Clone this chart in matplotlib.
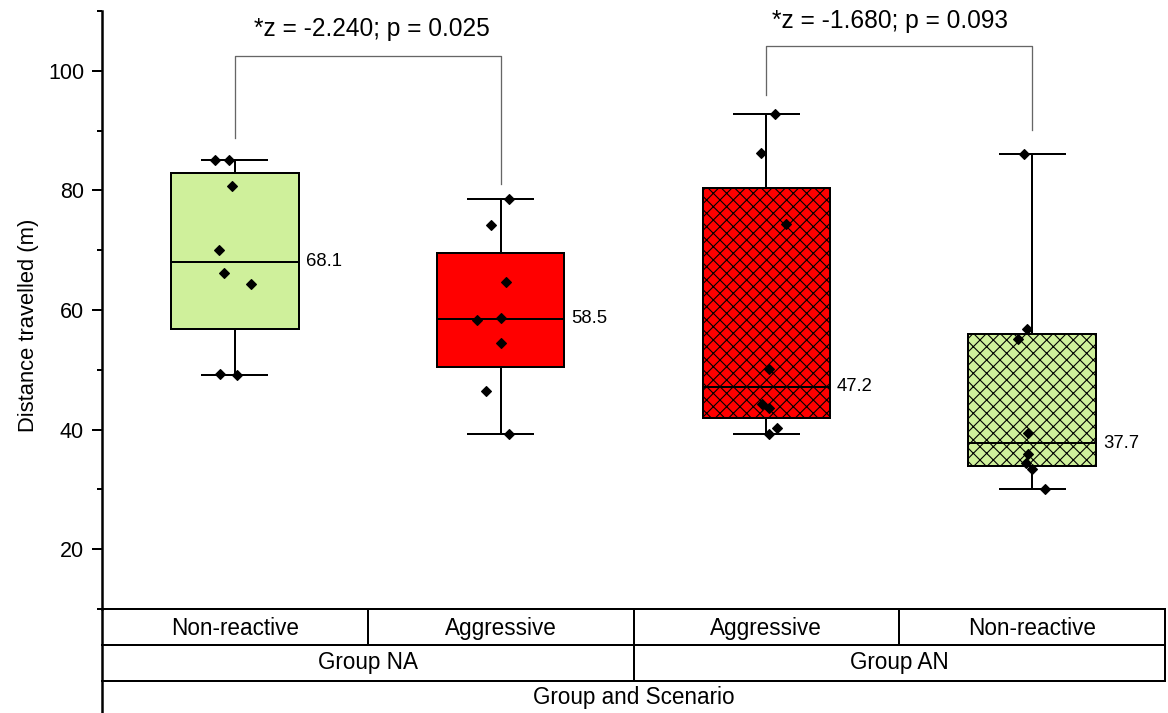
import numpy as np
import matplotlib
matplotlib.use("Agg")
import matplotlib.pyplot as plt
from matplotlib.lines import Line2D
from matplotlib.ticker import FixedLocator, MultipleLocator

# ---------------- data ----------------
scenarios = ["Non-reactive", "Aggressive", "Aggressive", "Non-reactive"]
groups = ["Group NA", "Group AN"]
axis_title = "Group and Scenario"
y_label = "Distance travelled (m)"

na_nonreactive = [85.1, 85.1, 80.8, 70.0, 66.2, 64.4, 49.3, 49.1]
na_aggressive = [78.6, 74.2, 64.7, 58.3, 58.7, 54.5, 46.4, 39.2]
an_aggressive = [92.8, 86.3, 74.4, 50.2, 44.2, 43.6, 40.2, 39.2]
an_nonreactive = [86.1, 56.8, 55.1, 39.5, 35.9, 34.4, 33.4, 30.0]

# horizontal offsets of the individual points
jitter_na_nonreactive = [-0.075, -0.023, -0.011, -0.060, -0.041, 0.060, -0.056, 0.008]
jitter_na_aggressive = [0.030, -0.038, 0.019, -0.090, 0.0, 0.0, -0.056, 0.030]
jitter_an_aggressive = [0.034, -0.019, 0.072, 0.011, -0.015, 0.008, 0.041, 0.011]
jitter_an_nonreactive = [-0.030, -0.019, -0.053, -0.015, -0.015, -0.023, 0.0, 0.049]

comparison_labels = ["*z = -2.240; p = 0.025", "*z = -1.680; p = 0.093"]

# ---------------- style ----------------
W, H, DPI = 1168, 713, 80


def pt(px):
    return px * 72.0 / DPI


plt.rcParams["font.family"] = ["Liberation Sans", "DejaVu Sans"]
plt.rcParams["hatch.linewidth"] = pt(1.1)

GREEN = "#cff09b"
RED = "#ff0000"
fills = [GREEN, RED, RED, GREEN]
hatches = ["", "", "xx", "xx"]

series = [na_nonreactive, na_aggressive, an_aggressive, an_nonreactive]
jitters = [jitter_na_nonreactive, jitter_na_aggressive, jitter_an_aggressive, jitter_an_nonreactive]
positions = np.arange(1, len(series) + 1)


def hinge_stats(vals):
    s = sorted(vals)
    n = len(s)
    return dict(med=float(np.median(s)),
                q1=float(np.median(s[: n // 2])),
                q3=float(np.median(s[(n + 1) // 2:])),
                whislo=s[0], whishi=s[-1], fliers=[], label="")


fig = plt.figure(figsize=(W / DPI, H / DPI), dpi=DPI)
ax = fig.add_axes([102 / W, (H - 609) / H, (1165 - 102) / W, (609 - 11) / H])

lw = pt(2.0)
stats = [hinge_stats(v) for v in series]
bp = ax.bxp(stats, positions=positions, widths=0.48, capwidths=0.245,
            patch_artist=True, showfliers=False,
            boxprops=dict(linewidth=lw, edgecolor="black"),
            medianprops=dict(color="black", linewidth=lw),
            whiskerprops=dict(color="black", linewidth=lw),
            capprops=dict(color="black", linewidth=lw))
for patch, fc, h in zip(bp["boxes"], fills, hatches):
    patch.set_facecolor(fc)
    patch.set_edgecolor("black")
    patch.set_hatch(h)

for p, vals, jit in zip(positions, series, jitters):
    ax.plot(p + np.array(jit), vals, linestyle="none", marker="D",
            markersize=pt(7.2), color="black", zorder=4, clip_on=False)

for p, st in zip(positions, stats):
    ax.text(p + 0.24 + 0.026, st["med"], f"{st['med']:.1f}", ha="left",
            va="center", fontsize=pt(18.5), color="black")

# significance brackets
brackets = [(1, 2, 102.5, 88.8, 81.1, 1.516, 107.0),
            (3, 4, 104.1, 95.9, 90.1, 3.466, 108.3)]
for (i, j, yb, yl, yr, tx, ty), lab in zip(brackets, comparison_labels):
    ax.plot([i, i, j, j], [yl, yb, yb, yr], color="#666666", linewidth=pt(1.3),
            zorder=2, clip_on=False)
    ax.text(tx, ty, lab, ha="center", va="center", fontsize=pt(24.5))

ax.set_xlim(0.5, 0.5 + len(series))
ax.set_ylim(10, 110)
ax.set_xticks([])
ax.yaxis.set_major_locator(MultipleLocator(20))
ax.yaxis.set_minor_locator(FixedLocator([10, 30, 50, 70, 90, 110]))
ax.tick_params(axis="y", which="major", direction="out", length=pt(10), width=pt(2),
               labelsize=pt(21.5), pad=pt(8))
ax.tick_params(axis="y", which="minor", direction="out", length=pt(5), width=pt(2))
for side in ["top", "right", "bottom"]:
    ax.spines[side].set_visible(False)
ax.spines["left"].set_linewidth(pt(2.5))

ax.text(-0.0696, 0.475, y_label, transform=ax.transAxes, rotation=90,
        ha="center", va="center", fontsize=pt(22))

# ---------------- category table below the axis ----------------
tr = ax.get_xaxis_transform()
row_h = 36 / 598
x0, x1 = 0.5, 0.5 + len(series)
tl = pt(2.0)


def seg(xs, ys):
    ax.add_line(Line2D(xs, ys, transform=tr, color="black", linewidth=tl,
                       clip_on=False, solid_capstyle="projecting"))


for k in range(3):
    seg([x0, x1], [-k * row_h, -k * row_h])
seg([x1, x1], [0, -2 * row_h])
ax.add_line(Line2D([0, 0], [0, -0.3], transform=ax.transAxes, color="black",
                   linewidth=pt(2.5), clip_on=False))
for xb in positions[:-1] + 0.5:
    seg([xb, xb], [0, -row_h])
seg([2.5, 2.5], [-row_h, -2 * row_h])

tfs = pt(22.5)
for p, name in zip(positions, scenarios):
    ax.text(p, -0.55 * row_h, name, transform=tr, ha="center", va="center", fontsize=tfs)
for g, name in enumerate(groups):
    ax.text(1.5 + 2 * g, -1.5 * row_h, name, transform=tr, ha="center", va="center", fontsize=tfs)
ax.text(2.5, -2.45 * row_h, axis_title, transform=tr, ha="center", va="center", fontsize=tfs)

fig.savefig("out.png", dpi=DPI)
